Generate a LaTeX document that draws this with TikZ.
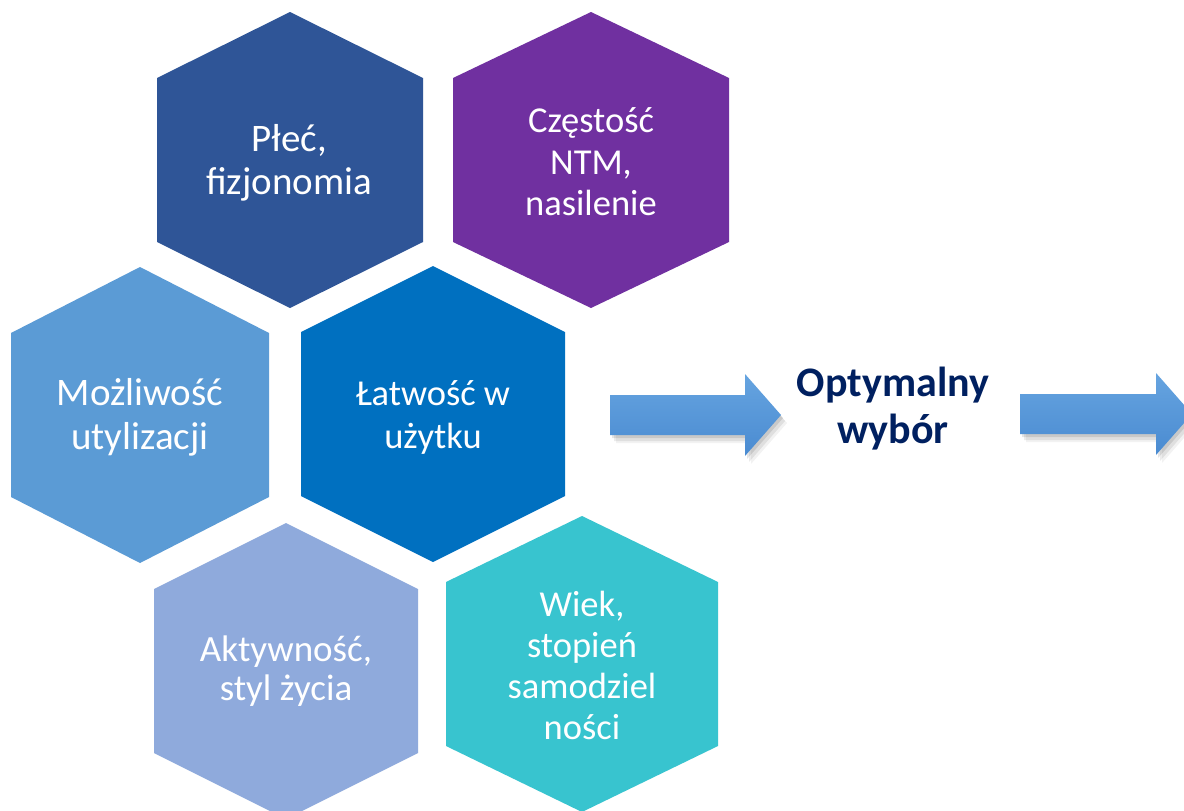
\documentclass[tikz,border=0pt]{standalone}
\usepackage{fontspec}
\setmainfont{Carlito}
\usetikzlibrary{calc}
\definecolor{hexA}{HTML}{2F5597}
\definecolor{hexB}{HTML}{7030A0}
\definecolor{hexC}{HTML}{5B9BD5}
\definecolor{hexD}{HTML}{0070C0}
\definecolor{hexE}{HTML}{8FAADC}
\definecolor{hexF}{HTML}{38C4CF}
\definecolor{arrTop}{HTML}{66A4E0}
\definecolor{arrBot}{HTML}{4A8BD1}
\definecolor{navy}{HTML}{002060}
\tikzset{
  pics/hexa/.style args={#1/#2}{code={
    \fill[#1] (-#2,-82) -- (0,-148) -- (#2,-82) -- (#2,82) -- (0,148) -- (-#2,82) -- cycle;}},
  hextext/.style={text=white, align=center, inner sep=0pt},
  blockarrow/.style={top color=arrTop, bottom color=arrBot},
  result/.style={text=navy, align=center, inner sep=0pt,
    font=\fontsize{42}{47}\selectfont\bfseries}
}
\begin{document}
\begin{tikzpicture}[x=1pt,y=-1pt]
\useasboundingbox (0,0) rectangle (1184,811);
\clip (0,0) rectangle (1184,811);
\fill[white] (0,0) rectangle (1184,811);

% hexagons
\pic at (290,160) {hexa={hexA/133}};
\pic at (591,160) {hexa={hexB/138}};
\pic at (140,415) {hexa={hexC/129}};
\pic at (433,414) {hexa={hexD/132}};
\pic at (286,671) {hexa={hexE/132}};
\pic at (582,664) {hexa={hexF/136}};

% hexagon texts
\node[hextext, font=\fontsize{39}{43}\selectfont] (t1) at (289,163) {Płeć,\\fizjonomia};
\node[hextext, font=\fontsize{36.5}{41.5}\selectfont] (t2) at (591,162) {Częstość\\NTM,\\nasilenie};
\node[hextext, font=\fontsize{39}{44}\selectfont] (t3) at (140,417) {Możliwość\\utylizacji};
\node[hextext, font=\fontsize{36.5}{43}\selectfont] (t4) at (433,417) {Łatwość w\\użytku};
\node[hextext, font=\fontsize{37}{39}\selectfont] (t5) at (286,671) {Aktywność,\\styl życia};
\node[hextext, font=\fontsize{36.5}{41}\selectfont] (t6) at (582,665) {Wiek,\\stopień\\samodziel\\ności};

% block arrows
\foreach \dx/\dy/\op in {2/3/0.10, 4/6/0.08, 6/8/0.05} {
  \fill[black, opacity=\op, shift={(\dx,\dy)}] (610,395) -- (745,395) -- (745,374) -- (781,415) -- (745,456) -- (745,435) -- (610,435) -- cycle;
  \fill[black, opacity=\op, shift={(\dx,\dy)}] (1020,394) -- (1156,394) -- (1156,373) -- (1192,414) -- (1156,455) -- (1156,434) -- (1020,434) -- cycle;
}
\shade[blockarrow] (610,395) -- (745,395) -- (745,374) -- (781,415) -- (745,456) -- (745,435) -- (610,435) -- cycle;
\shade[blockarrow] (1020,394) -- (1156,394) -- (1156,373) -- (1192,414) -- (1156,455) -- (1156,434) -- (1020,434) -- cycle;

% result text
\node[result] (res) at (893,409) {Optymalny\\wybór};
\end{tikzpicture}
\end{document}
